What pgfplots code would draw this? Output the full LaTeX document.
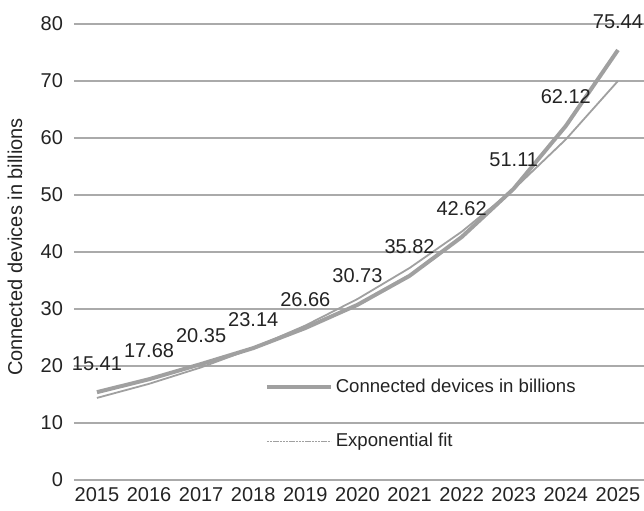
\documentclass[border=0pt]{standalone}
\usepackage{pgfplots}
\pgfplotsset{compat=1.18}
\usepackage{fontspec}
\setmainfont{Liberation Sans}
\definecolor{linegray}{RGB}{160,160,160}
\definecolor{gridgray}{RGB}{170,170,170}
\definecolor{txt}{RGB}{35,35,35}
\pgfplotsset{
  thicklegend/.style={legend image code/.code={\draw[linegray, line width=2pt] (0pt,0pt) -- (32pt,0pt);}},
  thinlegend/.style={legend image code/.code={\draw[linegray, line width=0.9pt, dash pattern=on 1.2pt off 0.4pt] (0pt,0pt) -- (32pt,0pt);}},
}
\begin{document}
\begin{tikzpicture}
\begin{axis}[
  scale only axis,
  width=285pt, height=228pt,
  xmin=-0.44, xmax=10.5,
  ymin=0, ymax=80,
  ytick={0,10,...,80},
  xtick={0,...,10},
  xticklabels={2015,2016,2017,2018,2019,2020,2021,2022,2023,2024,2025},
  /pgf/number format/assume math mode=true,
  axis line style={draw=none},
  tick style={draw=none},
  ymajorgrids,
  grid style={gridgray, line width=0.6pt},
  tick label style={font=\fontsize{10}{12}\selectfont, text=txt},
  yticklabel style={xshift=-2pt},
  ylabel={Connected devices in billions},
  every axis y label/.style={at={(rel axis cs:0,0.5)}, xshift=-29.5pt, yshift=2.5pt, rotate=90, anchor=center, font=\fontsize{10}{12}\selectfont, text=txt},
  clip=false,
  legend style={draw=none, fill=none, at={(0.334,0.144)}, anchor=west, inner sep=0pt,
    font=\fontsize{9.3}{11}\selectfont, text=txt, row sep=16pt,
    nodes={inner sep=1.5pt}},
  legend cell align=left,
]
\addplot[linegray, line width=2pt, line join=round, thicklegend,
  nodes near coords, point meta=explicit symbolic,
  every node near coord/.style={anchor=base, yshift=11pt, text=txt, font=\fontsize{10}{12}\selectfont}]
  table[meta=lab] {
x y lab
0 15.41 15.41
1 17.68 17.68
2 20.35 20.35
3 23.14 23.14
4 26.66 26.66
5 30.73 30.73
6 35.82 35.82
7 42.62 42.62
8 51.11 51.11
9 62.12 62.12
10 75.44 75.44
};
\addlegendentry{Connected devices in billions}
\addplot[linegray, line width=0.9pt, thinlegend]
  coordinates {(0,14.40) (1,16.87) (2,19.76) (3,23.14) (4,27.10) (5,31.75) (6,37.19) (7,43.56) (8,51.02) (9,59.76) (10,70.00)};
\addlegendentry{Exponential fit}
\end{axis}
\pgfresetboundingbox
\useasboundingbox (-37pt,-15pt) rectangle (285pt,240pt);
\end{tikzpicture}
\end{document}
